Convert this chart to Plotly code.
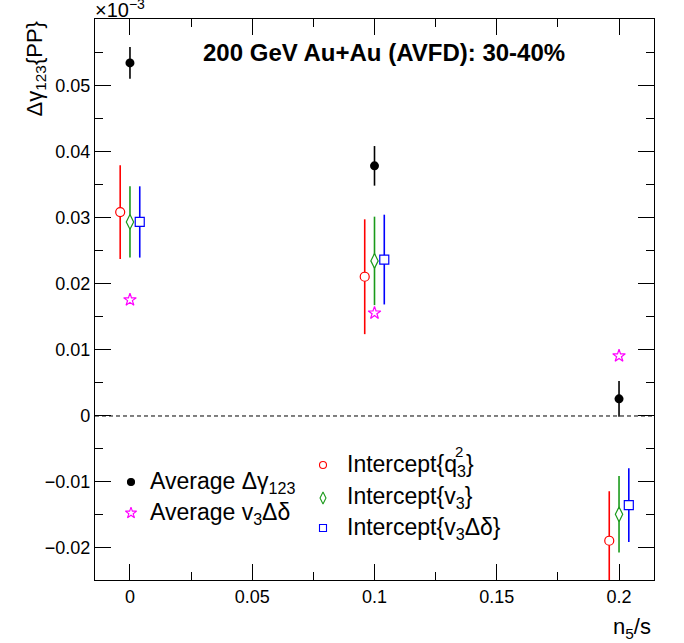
import plotly.graph_objects as go

# ---------------- data (values in units of 1e-3) ----------------
x_avg = [0.0, 0.1, 0.2]
avg_dgamma = [0.0535, 0.0379, 0.0026]
avg_dgamma_err = [0.0024, 0.0030, 0.0027]
avg_v3dd = [0.0176, 0.0156, 0.0091]

x_q = [-0.004, 0.096, 0.196]
int_q = [0.0309, 0.0211, -0.0189]
int_q_err = [0.0071, 0.0087, 0.0075]

x_v3 = [0.0, 0.1, 0.2]
int_v3 = [0.0294, 0.0235, -0.0149]
int_v3_err = [0.0054, 0.0067, 0.0058]

x_v3dd = [0.004, 0.104, 0.204]
int_v3dd = [0.0294, 0.0237, -0.0135]
int_v3dd_err = [0.0054, 0.0068, 0.0056]

x_ticks = [0, 0.05, 0.1, 0.15, 0.2]
x_ticklabels = ["0", "0.05", "0.1", "0.15", "0.2"]
y_ticks = [-0.02, -0.01, 0, 0.01, 0.02, 0.03, 0.04, 0.05]
y_ticklabels = ["\u22120.02", "\u22120.01", "0", "0.01", "0.02", "0.03", "0.04", "0.05"]

title_text = "200 GeV Au+Au (AVFD): 30-40%"

RED = "#ff0000"
GREEN = "#1a9a1a"
BLUE = "#0000ff"
MAG = "#ff00ff"
FONT = "Liberation Sans"

W, H = 684, 643
L, R, T, B = 95, 654, 19, 580  # plot frame in pixels


def px(xp):
    return (xp - L) / (R - L)


def py(yp):
    return (B - yp) / (B - T)


fig = go.Figure()

err_th = 1.6

fig.add_trace(go.Scatter(
    x=x_q, y=int_q, mode="markers",
    error_y=dict(type="data", array=int_q_err, width=0, thickness=err_th, color=RED),
    marker=dict(symbol="circle", size=9, color="white", line=dict(color=RED, width=1.2)),
    showlegend=False))
fig.add_trace(go.Scatter(
    x=x_v3, y=int_v3, mode="markers",
    error_y=dict(type="data", array=int_v3_err, width=0, thickness=err_th, color=GREEN),
    marker=dict(symbol="diamond-tall", size=10.5, color="white", line=dict(color=GREEN, width=1.2)),
    showlegend=False))
fig.add_trace(go.Scatter(
    x=x_v3dd, y=int_v3dd, mode="markers",
    error_y=dict(type="data", array=int_v3dd_err, width=0, thickness=err_th, color=BLUE),
    marker=dict(symbol="square", size=9, color="white", line=dict(color=BLUE, width=1.2)),
    showlegend=False))
fig.add_trace(go.Scatter(
    x=x_avg, y=avg_dgamma, mode="markers",
    error_y=dict(type="data", array=avg_dgamma_err, width=0, thickness=err_th, color="black"),
    marker=dict(symbol="circle", size=9, color="black"),
    showlegend=False))
fig.add_trace(go.Scatter(
    x=x_avg, y=avg_v3dd, mode="markers",
    marker=dict(symbol="star-open", size=9.5, color=MAG, line=dict(color=MAG, width=1.2)),
    showlegend=False))

# legend markers on an overlay axis in [0,1]
leg_x = [px(131), px(131), px(323), px(323), px(323)]
leg_y = [py(482), py(513), py(465), py(498), py(528)]
leg_sym = ["circle", "star-open", "circle-open", "diamond-tall-open", "square-open"]
leg_col = ["black", MAG, RED, GREEN, BLUE]
leg_size = [7, 8.5, 7, 8.5, 7]
for xx, yy, s, c, sz in zip(leg_x, leg_y, leg_sym, leg_col, leg_size):
    fig.add_trace(go.Scatter(x=[xx], y=[yy], xaxis="x2", yaxis="y2", mode="markers",
                             marker=dict(symbol=s, size=sz, color=c, line=dict(color=c, width=1.1)),
                             showlegend=False, hoverinfo="skip"))

fig.add_shape(type="line", xref="paper", x0=0, x1=1, yref="y", y0=0, y1=0,
              line=dict(color="black", width=1, dash="4px,3px"))

ann = []
lf = 23
# legend text
ann.append(dict(text="Average \u0394\u03b3<sub>123</sub>", x=px(148), y=py(482), xanchor="left", yanchor="middle"))
ann.append(dict(text="Average v<sub>3</sub>\u0394\u03b4", x=px(148), y=py(513), xanchor="left", yanchor="middle"))
ann.append(dict(text="Intercept{q<sub>3</sub>}", x=px(345), y=py(465), xanchor="left", yanchor="middle"))
ann.append(dict(text="Intercept{v<sub>3</sub>}", x=px(345), y=py(498), xanchor="left", yanchor="middle"))
ann.append(dict(text="Intercept{v<sub>3</sub>\u0394\u03b4}", x=px(345), y=py(528), xanchor="left", yanchor="middle"))
for a in ann:
    a.update(xref="paper", yref="paper", showarrow=False, font=dict(family=FONT, size=lf, color="black"))
# stacked superscript "2" over the subscript "3" of q
ann.append(dict(text="2", x=px(459), y=py(451), xref="paper", yref="paper",
                xanchor="center", yanchor="middle", showarrow=False,
                font=dict(family=FONT, size=15, color="black")))

ann.append(dict(text="<b>" + title_text + "</b>", x=px(384), y=py(52), xref="paper", yref="paper",
                xanchor="center", yanchor="middle", showarrow=False,
                font=dict(family=FONT, size=24, color="black")))
ann.append(dict(text="\u0394\u03b3<sub>123</sub>{PP}", x=px(35), y=py(20), xref="paper", yref="paper",
                xanchor="center", yanchor="top", textangle=-90, showarrow=False,
                font=dict(family=FONT, size=22, color="black")))
ann.append(dict(text="n<sub>5</sub>/s", x=px(653), y=py(612), xref="paper", yref="paper",
                xanchor="right", yanchor="top", showarrow=False,
                font=dict(family=FONT, size=22, color="black")))
ann.append(dict(text="\u00d710<sup>\u22123</sup>", x=px(93), y=py(23), xref="paper", yref="paper",
                xanchor="left", yanchor="bottom", showarrow=False,
                font=dict(family=FONT, size=20, color="black")))

axis_common = dict(showline=True, linecolor="black", linewidth=1.2, mirror="allticks",
                   ticks="inside", ticklen=16, tickwidth=1, tickcolor="black",
                   showgrid=False, zeroline=False,
                   tickfont=dict(family=FONT, size=18, color="black"))

fig.update_layout(
    width=W, height=H,
    margin=dict(l=L, r=W - R, t=T, b=H - B),
    paper_bgcolor="white", plot_bgcolor="white",
    xaxis=dict(range=[-0.0143, 0.2143], tickvals=x_ticks, ticktext=x_ticklabels,
               minor=dict(ticks="inside", ticklen=8, dtick=0.025, tick0=0, tickcolor="black", showgrid=False),
               **axis_common),
    yaxis=dict(range=[-0.02485, 0.06015], tickvals=y_ticks, ticktext=y_ticklabels,
               minor=dict(ticks="inside", ticklen=8, dtick=0.005, tick0=0, tickcolor="black", showgrid=False),
               **axis_common),
    xaxis2=dict(overlaying="x", range=[0, 1], visible=False),
    yaxis2=dict(overlaying="y", range=[0, 1], visible=False),
    annotations=ann,
)

fig.write_html("out.html")
